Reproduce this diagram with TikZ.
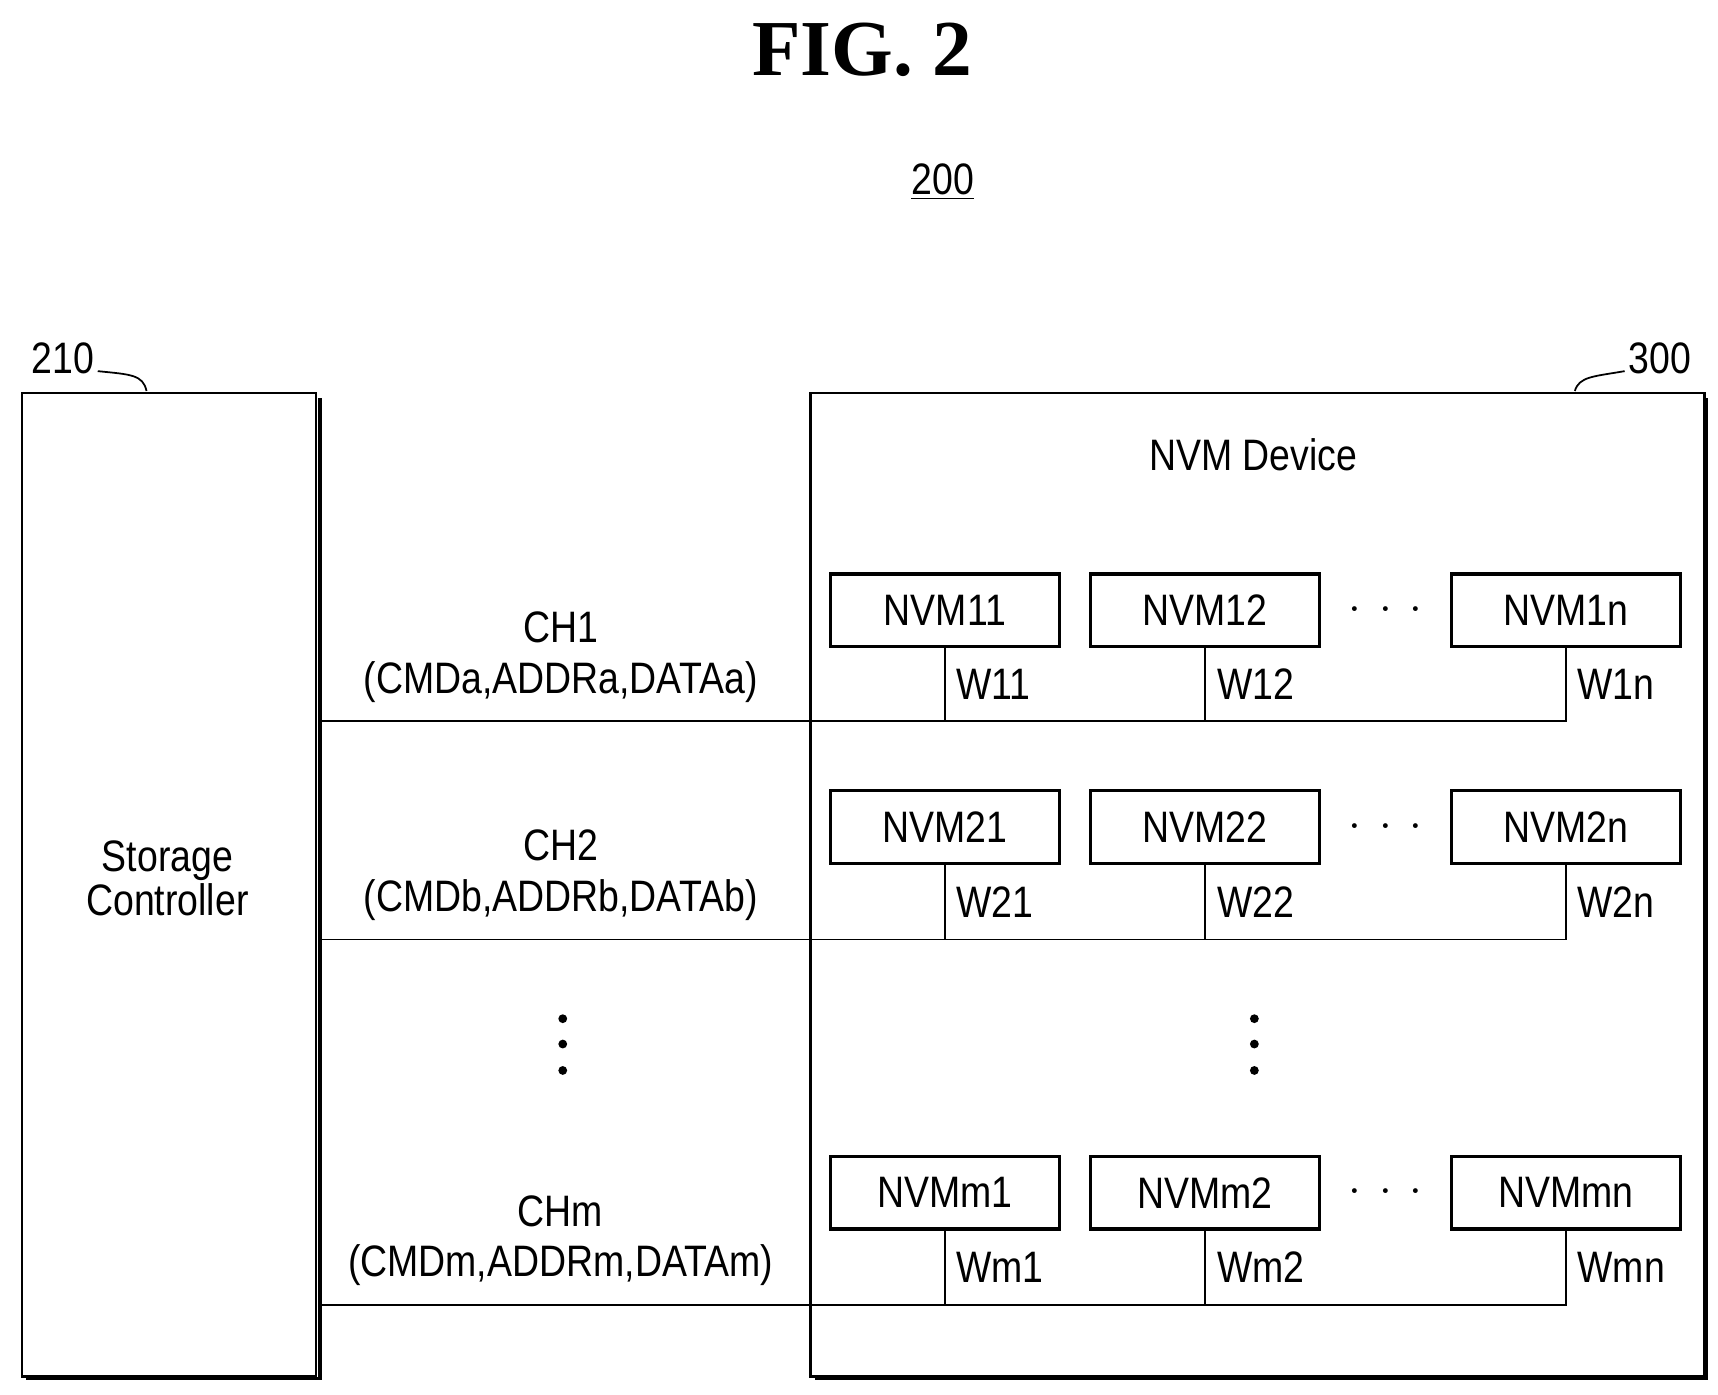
\documentclass[tikz,border=0pt]{standalone}
\usepackage{fontspec}
\setmainfont{Liberation Sans}[FakeStretch=0.85]
\newfontfamily\titlefont{Liberation Serif}
\begin{document}
\begin{tikzpicture}[x=0.5pt,y=-0.5pt,
  txt/.style={inner sep=0pt,font=\fontsize{20}{24}\selectfont},
  nvm/.style={draw,line width=1.6pt,minimum width=104pt,minimum height=33pt,inner sep=0pt,font=\fontsize{20}{24}\selectfont},
  ln/.style={line width=0.8pt}]
\useasboundingbox (0,0) rectangle (1560,1266);
\node[inner sep=0pt,font=\titlefont\bfseries\fontsize{36}{40}\selectfont] (title) at (783,45) {FIG. 2};
\node[txt] (n200) at (856,165) {\underline{200}};
% controller
\fill (289,361) rectangle (292,1253);
\fill (24,1250) rectangle (292,1253);
\draw[line width=1.2pt] (20,357) rectangle (287,1250);
\node[txt] (sc) at (152,802) {\begin{tabular}{c}Storage\\[-4pt]Controller\end{tabular}};
\node[txt] (l210) at (57,325) {210};
\coordinate (c210) at (133,355);
\draw[ln] (l210.east) ++(3,12) .. controls (118,340) and (130,340) .. (c210);
% NVM device
\fill (1548,361) rectangle (1551,1253);
\fill (740,1250) rectangle (1551,1253);
\draw[line width=1.2pt] (736,357) rectangle (1548,1250);
\node[txt] (dev) at (1138,413) {NVM Device};
\node[txt] (l300) at (1507,325) {300};
\coordinate (c300) at (1430,355);
\draw[ln] (l300.west) ++(-3,12) .. controls (1446,342) and (1434,342) .. (c300);
% rows
\foreach \r/\yb/\yl/\ch/\sig/\a/\b/\c/\wa/\wb/\wc in {
 1/554/655/CH1/{(CMDa,ADDRa,DATAa)}/NVM11/NVM12/NVM1n/W11/W12/W1n,
 2/751/853/CH2/{(CMDb,ADDRb,DATAb)}/NVM21/NVM22/NVM2n/W21/W22/W2n,
 m/1083/1185/CHm/{(CMDm,ADDRm,DATAm)}/NVMm1/NVMm2/NVMmn/Wm1/Wm2/Wmn}{
  \node[nvm] (a\r) at (858,\yb) {\a};
  \node[nvm] (b\r) at (1094,\yb) {\b};
  \node[nvm] (c\r) at (1422,\yb) {\c};
  \node[txt] (d\r) at (1258,\yb) {$\cdot\,\cdot\,\cdot$};
  \coordinate (s\r) at (289,\yl);
  \coordinate (e\r) at (1422,\yl);
  \draw[ln] (s\r) -- (e\r) -- (c\r.south);
  \draw[ln] (a\r.south) -- (a\r.south |- s\r);
  \draw[ln] (b\r.south) -- (b\r.south |- s\r);
  \node[txt,anchor=west] (wa\r) at (868,\yl-34) {\wa};
  \node[txt,anchor=west] (wb\r) at (1105,\yl-34) {\wb};
  \node[txt,anchor=west] (wc\r) at (1432,\yl-34) {\wc};
  \node[txt] (ch\r) at (509,\yl-85) {\ch};
  \node[txt] (sig\r) at (509,\yl-36) {\sig};
}
\foreach \x/\n in {511/l,1139/r}{
  \foreach \y/\k in {925/1,948/2,972/3}{
    \fill (\x,\y) circle (4);
  }
}
\end{tikzpicture}
\end{document}
